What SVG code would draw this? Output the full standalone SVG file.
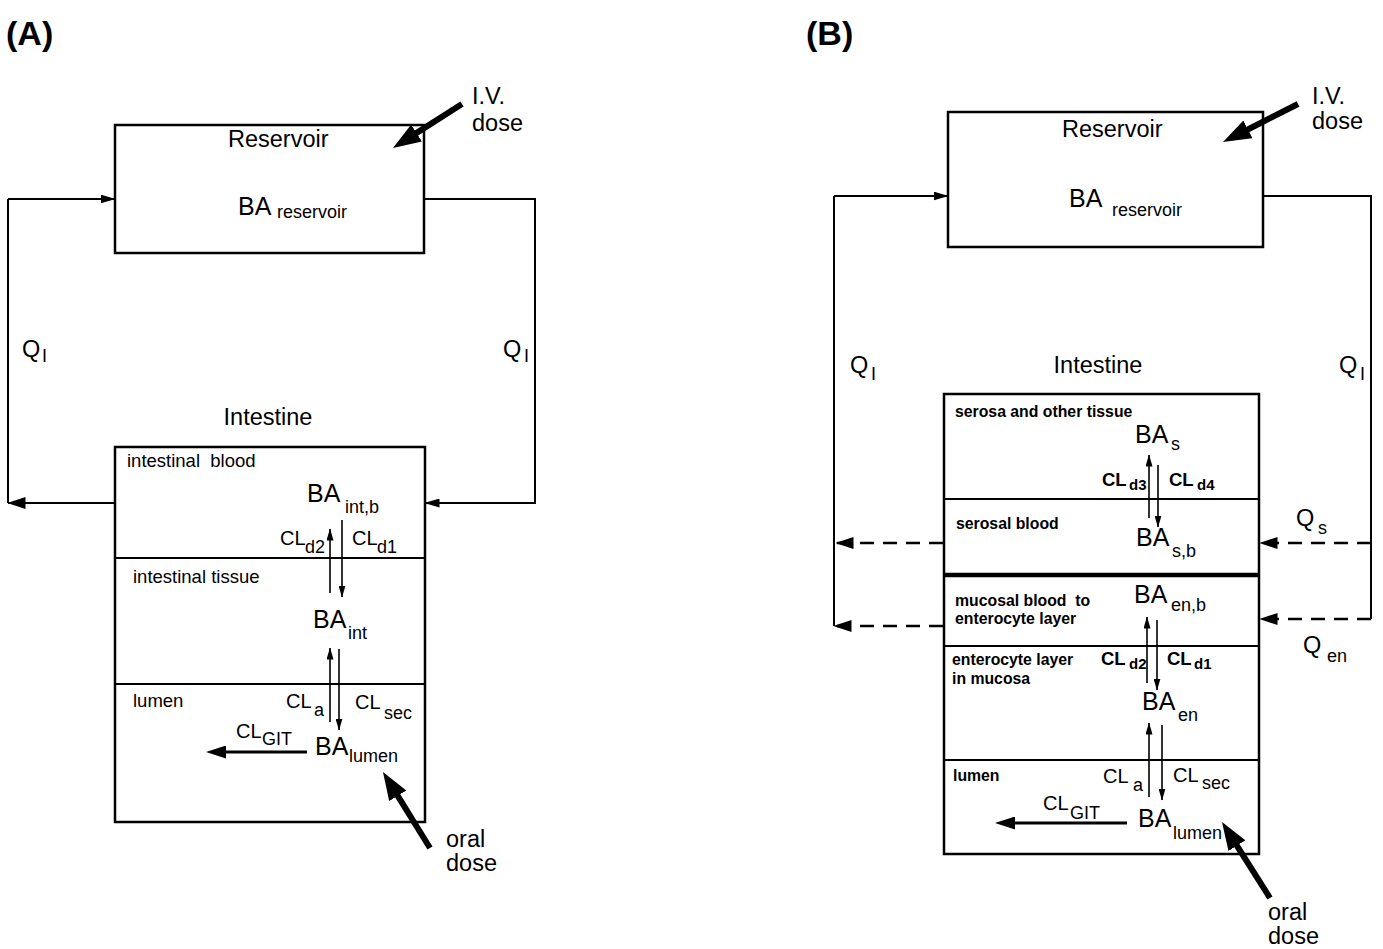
<svg xmlns="http://www.w3.org/2000/svg" width="1383" height="949" viewBox="0 0 1383 949">
<style>
text{font-family:"Liberation Sans",Arial,sans-serif;fill:#000}
.pre{white-space:pre}
.box{fill:#fff;stroke:#000;stroke-width:2.5}
.div{stroke:#000;stroke-width:2}
.ln{fill:none;stroke:#000;stroke-width:2}
.dash{fill:none;stroke:#000;stroke-width:2.6;stroke-dasharray:14 9}
.thin{stroke:#000;stroke-width:1.6}
.thick{stroke:#000;stroke-width:6}
.med{stroke:#000;stroke-width:3}
.title{font-size:34px;font-weight:bold}
.big{font-size:23.5px}
.ba{font-size:25px}
.sub{font-size:18px}
.lab{font-size:18.5px}
.bl{font-size:15.8px;font-weight:bold}
.cl{font-size:20px}
.clb{font-size:18.5px;font-weight:bold}
.subb{font-size:15px;font-weight:bold}
</style>
<defs>
<marker id="sm" markerUnits="userSpaceOnUse" viewBox="0 0 12 7" refX="11.5" refY="3.5" markerWidth="12" markerHeight="7" orient="auto"><path d="M0,0 L12,3.5 L0,7 z" fill="#000"/></marker>
<marker id="lp" markerUnits="userSpaceOnUse" viewBox="0 0 15 9" refX="14.5" refY="4.5" markerWidth="15" markerHeight="9" orient="auto"><path d="M0,0 L15,4.5 L0,9 z" fill="#000"/></marker>
<marker id="lg" markerUnits="userSpaceOnUse" viewBox="0 0 18 12" refX="17.5" refY="6" markerWidth="18" markerHeight="12" orient="auto"><path d="M0,0 L18,6 L0,12 z" fill="#000"/></marker>
<marker id="md" markerUnits="userSpaceOnUse" viewBox="0 0 20 13" refX="4" refY="6.5" markerWidth="20" markerHeight="13" orient="auto"><path d="M0,0 L20,6.5 L0,13 z" fill="#000"/></marker>
<marker id="tk" markerUnits="userSpaceOnUse" viewBox="0 0 28 20" refX="4" refY="10" markerWidth="28" markerHeight="20" orient="auto"><path d="M0,0 L28,10 L0,20 z" fill="#000"/></marker>
</defs>
<rect width="1383" height="949" fill="#fff"/>

<text class="title" x="6" y="45">(A)</text>
<text class="title" x="806" y="45">(B)</text>

<!-- Panel A nodes -->
<g id="reservoirA">
<rect class="box" x="115" y="125" width="309" height="128"/>
<text class="big" x="228" y="147">Reservoir</text>
<text x="238" y="215"><tspan class="ba">BA</tspan><tspan class="sub" x="277" y="218">reservoir</tspan></text>
</g>
<g id="ivdoseA">
<text class="big" x="472" y="104">I.V.</text>
<text class="big" x="472" y="131">dose</text>
</g>
<g id="intestineA">
<text class="big" x="268" y="425" text-anchor="middle">Intestine</text>
<rect class="box" x="115" y="447" width="310" height="375"/>
<line class="div" x1="115" y1="558" x2="425" y2="558"/>
<line class="div" x1="115" y1="684" x2="425" y2="684"/>
<text class="lab pre" x="127" y="467">intestinal  blood</text>
<text x="307" y="502"><tspan class="ba">BA</tspan><tspan class="sub" x="345" y="513">int,b</tspan></text>
<text class="lab" x="133" y="583">intestinal tissue</text>
<text x="313" y="628"><tspan class="ba">BA</tspan><tspan class="sub" x="348" y="639">int</tspan></text>
<text class="lab" x="133" y="707">lumen</text>
<text x="315" y="755"><tspan class="ba">BA</tspan><tspan class="sub" x="349" y="762">lumen</tspan></text>
<text x="280" y="545"><tspan class="cl">CL</tspan><tspan class="sub" x="305" y="553">d2</tspan></text>
<text x="352" y="545"><tspan class="cl">CL</tspan><tspan class="sub" x="377" y="553">d1</tspan></text>
<text x="286" y="708"><tspan class="cl">CL</tspan><tspan class="sub" x="314" y="716">a</tspan></text>
<text x="355" y="709"><tspan class="cl">CL</tspan><tspan class="sub" x="384" y="719">sec</tspan></text>
<text x="236" y="738"><tspan class="cl">CL</tspan><tspan class="sub" x="262" y="745">GIT</tspan></text>
</g>
<g id="oraldoseA">
<text class="big" x="446" y="847">oral</text>
<text class="big" x="446" y="871">dose</text>
</g>

<!-- Panel B nodes -->
<g id="reservoirB">
<rect class="box" x="948" y="112" width="315" height="135"/>
<text class="big" x="1062" y="137">Reservoir</text>
<text x="1069" y="207"><tspan class="ba">BA</tspan><tspan class="sub" x="1112" y="216">reservoir</tspan></text>
</g>
<g id="ivdoseB">
<text class="big" x="1312" y="104">I.V.</text>
<text class="big" x="1312" y="129">dose</text>
</g>
<g id="intestineB">
<text class="big" x="1098" y="373" text-anchor="middle">Intestine</text>
<rect class="box" x="944" y="394" width="315" height="460"/>
<line class="div" x1="944" y1="499" x2="1259" y2="499"/>
<line x1="944" y1="575" x2="1259" y2="575" stroke="#000" stroke-width="4.5"/>
<line class="div" x1="944" y1="646" x2="1259" y2="646"/>
<line class="div" x1="944" y1="760" x2="1259" y2="760"/>
<text class="bl" x="955" y="417">serosa and other tissue</text>
<text x="1135" y="443"><tspan class="ba">BA</tspan><tspan class="sub" x="1171" y="450">s</tspan></text>
<text x="1102" y="486"><tspan class="clb">CL</tspan><tspan class="subb" x="1129" y="490">d3</tspan></text>
<text x="1169" y="486"><tspan class="clb">CL</tspan><tspan class="subb" x="1197" y="490">d4</tspan></text>
<text class="bl" x="956" y="529">serosal blood</text>
<text x="1136" y="546"><tspan class="ba">BA</tspan><tspan class="sub" x="1172" y="557">s,b</tspan></text>
<text class="bl pre" x="955" y="606">mucosal blood  to</text>
<text class="bl" x="955" y="624">enterocyte layer</text>
<text x="1134" y="603"><tspan class="ba">BA</tspan><tspan class="sub" x="1171" y="611">en,b</tspan></text>
<text class="bl" x="952" y="665">enterocyte layer</text>
<text class="bl" x="952" y="684">in mucosa</text>
<text x="1101" y="665"><tspan class="clb">CL</tspan><tspan class="subb" x="1129" y="669">d2</tspan></text>
<text x="1167" y="665"><tspan class="clb">CL</tspan><tspan class="subb" x="1194" y="669">d1</tspan></text>
<text x="1142" y="710"><tspan class="ba">BA</tspan><tspan class="sub" x="1178" y="721">en</tspan></text>
<text class="bl" x="953" y="781">lumen</text>
<text x="1103" y="783"><tspan class="cl">CL</tspan><tspan class="sub" x="1133" y="791">a</tspan></text>
<text x="1173" y="782"><tspan class="cl">CL</tspan><tspan class="sub" x="1202" y="789">sec</tspan></text>
<text x="1043" y="810"><tspan class="cl">CL</tspan><tspan class="sub" x="1070" y="819">GIT</tspan></text>
<text x="1138" y="827"><tspan class="ba">BA</tspan><tspan class="sub" x="1173" y="839">lumen</tspan></text>
</g>
<g id="oraldoseB">
<text class="big" x="1268" y="920">oral</text>
<text class="big" x="1268" y="944">dose</text>
</g>

<!-- flow labels -->
<g id="flowlabels">
<text x="22" y="357"><tspan class="big">Q</tspan><tspan class="sub" x="42" y="362">I</tspan></text>
<text x="503" y="357"><tspan class="big">Q</tspan><tspan class="sub" x="524" y="362">I</tspan></text>
<text x="850" y="373"><tspan class="big">Q</tspan><tspan class="sub" x="871" y="380">I</tspan></text>
<text x="1339" y="373"><tspan class="big">Q</tspan><tspan class="sub" x="1360" y="380">I</tspan></text>
<text x="1296" y="526"><tspan class="big">Q</tspan><tspan class="sub" x="1318" y="534">s</tspan></text>
<text x="1303" y="653"><tspan class="big">Q</tspan><tspan class="sub" x="1327" y="662">en</tspan></text>
</g>

<!-- connectors -->
<g id="connectors">
<!-- A loops -->
<line class="ln" x1="115" y1="503" x2="8" y2="503" marker-end="url(#lg)"/>
<line class="ln" x1="8" y1="503" x2="8" y2="199"/>
<line class="ln" x1="8" y1="199" x2="115" y2="199" marker-end="url(#lp)"/>
<polyline class="ln" points="424,199 535,199 535,503 425,503" marker-end="url(#lp)"/>
<!-- A internal -->
<line class="thin" x1="330" y1="593" x2="330" y2="529" marker-end="url(#sm)"/>
<line class="thin" x1="342" y1="520" x2="342" y2="597" marker-end="url(#sm)"/>
<line class="thin" x1="330" y1="722" x2="330" y2="648" marker-end="url(#sm)"/>
<line class="thin" x1="339" y1="649" x2="339" y2="730" marker-end="url(#sm)"/>
<line class="med" x1="307" y1="752" x2="222" y2="752" marker-end="url(#md)"/>
<line class="thick" x1="462" y1="104" x2="413.2" y2="135.1" marker-end="url(#tk)"/>
<line class="thick" x1="430" y1="848" x2="395.6" y2="792.4" marker-end="url(#tk)"/>
<!-- B loops -->
<line class="ln" x1="834" y1="196" x2="948" y2="196" marker-end="url(#lp)"/>
<line class="ln" x1="834" y1="196" x2="834" y2="626"/>
<line class="dash" x1="943" y1="543" x2="836" y2="543" marker-end="url(#lg)"/>
<line class="dash" x1="943" y1="626" x2="834" y2="626" marker-end="url(#lg)"/>
<polyline class="ln" points="1263,196 1371,196 1371,619"/>
<line class="dash" x1="1371" y1="543" x2="1260" y2="543" marker-end="url(#lg)"/>
<line class="dash" x1="1371" y1="619" x2="1260" y2="619" marker-end="url(#lg)"/>
<!-- B internal -->
<line class="thin" x1="1149" y1="518" x2="1149" y2="455" marker-end="url(#sm)"/>
<line class="thin" x1="1158" y1="465" x2="1158" y2="527" marker-end="url(#sm)"/>
<line class="thin" x1="1147" y1="683" x2="1147" y2="617" marker-end="url(#sm)"/>
<line class="thin" x1="1157" y1="620" x2="1157" y2="690" marker-end="url(#sm)"/>
<line class="thin" x1="1149" y1="797" x2="1149" y2="723" marker-end="url(#sm)"/>
<line class="thin" x1="1162" y1="725" x2="1162" y2="800" marker-end="url(#sm)"/>
<line class="med" x1="1127" y1="823" x2="1011" y2="823" marker-end="url(#md)"/>
<line class="thick" x1="1298" y1="104" x2="1244.4" y2="131.2" marker-end="url(#tk)"/>
<line class="thick" x1="1270" y1="898" x2="1234.8" y2="842.3" marker-end="url(#tk)"/>
</g>
</svg>
